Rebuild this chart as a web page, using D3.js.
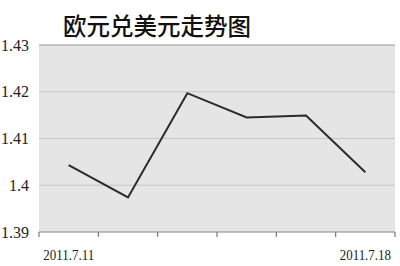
<!DOCTYPE html>
<html>
<head>
  <meta charset="utf-8">
  <title>欧元兑美元走势图</title>
  <script src="https://d3js.org/d3.v7.min.js"></script>
  <style>
    body { margin: 0; background: #fff; }
    .tick-label { font-family: "Liberation Serif", "DejaVu Serif", serif; fill: #222; }
    .title { font-family: "Noto Sans CJK SC", sans-serif; font-size: 23.5px; font-weight: 500; fill: #111; }
  </style>
</head>
<body>
  <svg width="400" height="266"></svg>
  <script>
    // Trading days (only first and last are labelled)
    const dates = ["2011.7.11", "2011.7.12", "2011.7.13", "2011.7.14", "2011.7.15", "2011.7.18"];
    const shownDates = ["2011.7.11", "2011.7.18"];
    // EUR/USD rate
    const rates = [1.4043, 1.3974, 1.4197, 1.4145, 1.4149, 1.4028];
    const yTicks = [1.39, 1.40, 1.41, 1.42, 1.43];

    const margin = { top: 45, right: 5, bottom: 34, left: 39 };
    const width = 400, height = 266;

    const svg = d3.select("svg");

    const x = d3.scaleBand()
      .domain(dates)
      .range([margin.left, width - margin.right]);

    const y = d3.scaleLinear()
      .domain([1.39, 1.43])
      .range([height - margin.bottom, margin.top]);

    // Plot background
    svg.append("rect")
      .attr("x", margin.left)
      .attr("y", margin.top)
      .attr("width", width - margin.left - margin.right)
      .attr("height", height - margin.top - margin.bottom)
      .attr("fill", "#e5e5e5");

    // Gridlines
    svg.selectAll("line.grid")
      .data(yTicks.slice(1))
      .enter()
      .append("line")
      .attr("class", "grid")
      .attr("x1", margin.left)
      .attr("x2", width - margin.right)
      .attr("y1", d => y(d))
      .attr("y2", d => y(d))
      .attr("stroke", (d, i) => i === yTicks.length - 2 ? "#9a9a9a" : "#c6c6c6")
      .attr("stroke-width", 1.2);

    // Y labels
    svg.selectAll("text.ylab")
      .data(yTicks)
      .enter()
      .append("text")
      .attr("class", "tick-label ylab")
      .attr("x", 29)
      .attr("y", d => y(d) + 5.5)
      .attr("text-anchor", "end")
      .attr("font-size", 16)
      .text(d => d3.format(".2~f")(d));

    // X axis line and tick marks at band edges
    const baseY = y(1.39);
    svg.append("line")
      .attr("x1", margin.left)
      .attr("x2", width - margin.right)
      .attr("y1", baseY)
      .attr("y2", baseY)
      .attr("stroke", "#888")
      .attr("stroke-width", 1.2);

    const edges = dates.map(d => x(d)).concat([x.range()[1]]);
    svg.selectAll("line.xtick")
      .data(edges)
      .enter()
      .append("line")
      .attr("class", "xtick")
      .attr("x1", d => d)
      .attr("x2", d => d)
      .attr("y1", baseY)
      .attr("y2", baseY + 5)
      .attr("stroke", "#777")
      .attr("stroke-width", 1.2);

    // X labels
    svg.selectAll("text.xlab")
      .data(shownDates)
      .enter()
      .append("text")
      .attr("class", "tick-label xlab")
      .attr("x", d => x(d) + x.bandwidth() / 2)
      .attr("y", 259.5)
      .attr("text-anchor", "middle")
      .attr("font-size", 15)
      .attr("textLength", 51)
      .attr("lengthAdjust", "spacingAndGlyphs")
      .text(d => d);

    // Rate line
    const line = d3.line()
      .x((d, i) => x(dates[i]) + x.bandwidth() / 2)
      .y(d => y(d));

    svg.append("path")
      .datum(rates)
      .attr("d", line)
      .attr("fill", "none")
      .attr("stroke", "#2b2b2b")
      .attr("stroke-width", 2);

    // Title
    svg.append("text")
      .attr("class", "title")
      .attr("x", 63)
      .attr("y", 35)
      .text("欧元兑美元走势图");
  </script>
</body>
</html>
